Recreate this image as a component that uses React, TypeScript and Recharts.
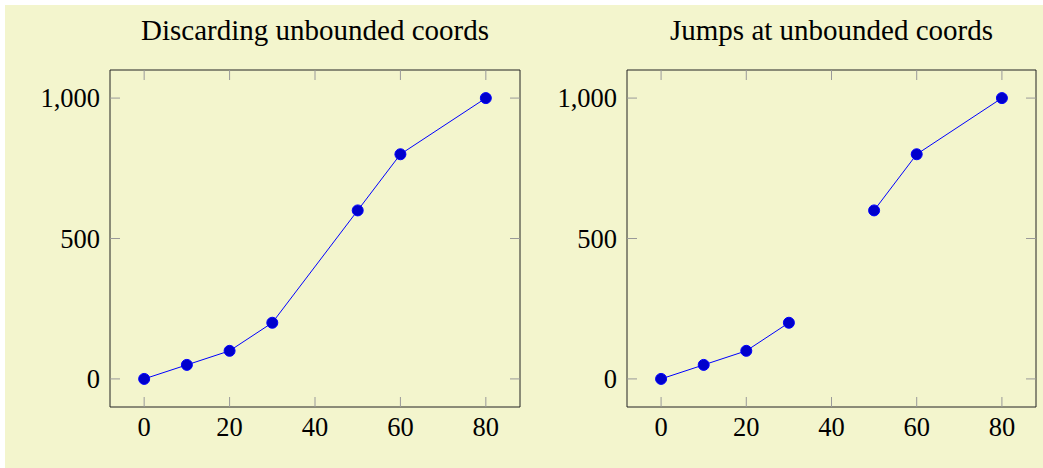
import { LineChart, Line, XAxis, YAxis } from 'recharts';

// coordinates; x = 40 is the unbounded one
const xValues = [0, 10, 20, 30, 40, 50, 60, 80];
const yValues: (number | null)[] = [0, 50, 100, 200, null, 600, 800, 1000];
const xTicks = [0, 20, 40, 60, 80];
const yTicks = [0, 500, 1000];
const titles = ['Discarding unbounded coords', 'Jumps at unbounded coords'];

const data = xValues.map((x, i) => ({ x, y: yValues[i] }));

const FONT = '"Liberation Serif", "DejaVu Serif", serif';
const BG = '#f3f5cd';
const TICK = '#999999';
const tickStyle = { fontSize: 26.5, fontFamily: FONT, fill: '#000' };
const noLabel = () => '';

interface PanelProps {
  left: number;
  width: number;
  rightMargin: number;
  title: string;
  connect: boolean;
}

function Panel({ left, width, rightMargin, title, connect }: PanelProps) {
  const plotLeft = 110;
  const plotRight = width - rightMargin;
  return (
    <div style={{ position: 'absolute', left, top: 0, width, height: 468 }}>
      <div
        style={{
          position: 'absolute',
          left: plotLeft,
          width: plotRight - plotLeft,
          top: 16,
          textAlign: 'center',
          fontSize: 29,
          lineHeight: '29px',
          fontFamily: FONT,
          color: '#000',
          whiteSpace: 'nowrap',
        }}
      >
        {title}
      </div>
      <LineChart width={width} height={468} data={data} margin={{ top: 70, right: rightMargin, bottom: 0, left: 0 }}>
        <XAxis
          xAxisId="x"
          dataKey="x"
          type="number"
          domain={[-8, 88]}
          ticks={xTicks}
          height={61}
          tickLine={false}
          tickSize={0}
          tickMargin={10}
          axisLine={{ stroke: '#222', strokeWidth: 1 }}
          tick={tickStyle}
        />
        <XAxis
          xAxisId="xb"
          dataKey="x"
          type="number"
          domain={[-8, 88]}
          ticks={xTicks}
          mirror
          tickFormatter={noLabel}
          tickSize={10}
          tickLine={{ stroke: TICK }}
          axisLine={false}
        />
        <XAxis
          xAxisId="xt"
          orientation="top"
          dataKey="x"
          type="number"
          domain={[-8, 88]}
          ticks={xTicks}
          mirror
          tickFormatter={noLabel}
          tickSize={10}
          tickLine={{ stroke: TICK }}
          axisLine={{ stroke: '#222', strokeWidth: 1 }}
        />
        <YAxis
          yAxisId="y"
          type="number"
          domain={[-100, 1100]}
          ticks={yTicks}
          width={110}
          tickLine={false}
          tickSize={0}
          tickMargin={10}
          axisLine={{ stroke: '#222', strokeWidth: 1 }}
          tick={tickStyle}
          tickFormatter={(v: number) => v.toLocaleString('en-US')}
        />
        <YAxis
          yAxisId="yl"
          type="number"
          domain={[-100, 1100]}
          ticks={yTicks}
          mirror
          tickFormatter={noLabel}
          tickSize={10}
          tickLine={{ stroke: TICK }}
          axisLine={false}
        />
        <YAxis
          yAxisId="yr"
          orientation="right"
          type="number"
          domain={[-100, 1100]}
          ticks={yTicks}
          mirror
          tickFormatter={noLabel}
          tickSize={10}
          tickLine={{ stroke: TICK }}
          axisLine={{ stroke: '#222', strokeWidth: 1 }}
        />
        <Line
          xAxisId="x"
          yAxisId="y"
          type="linear"
          dataKey="y"
          stroke="#0000ff"
          strokeWidth={1}
          connectNulls={connect}
          dot={{ r: 5.5, fill: '#0000cc', stroke: '#0000ff', strokeWidth: 1 }}
          isAnimationActive={false}
        />
        <Line xAxisId="xt" yAxisId="yr" dataKey="y" stroke="none" dot={false} isAnimationActive={false} />
        <Line xAxisId="xb" yAxisId="yl" dataKey="y" stroke="none" dot={false} isAnimationActive={false} />
      </LineChart>
    </div>
  );
}

export default function App() {
  return (
    <div style={{ position: 'absolute', left: 0, top: 0, width: 1043, height: 468 }}>
      <div style={{ position: 'absolute', left: 5, top: 5, width: 1038, height: 463, background: BG }} />
      <Panel left={0} width={530} rightMargin={10} title={titles[0]} connect={true} />
      <Panel left={517} width={526} rightMargin={7} title={titles[1]} connect={false} />
    </div>
  );
}
